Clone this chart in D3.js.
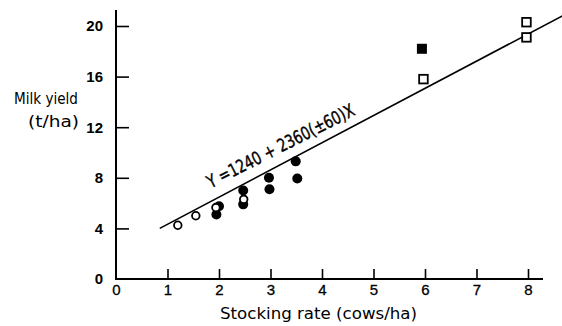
<!DOCTYPE html>
<html>
<head>
<meta charset="utf-8">
<script src="https://cdn.jsdelivr.net/npm/d3@7"></script>
<style>
  body { margin: 0; background: #fff; }
  svg { display: block; font-family: "DejaVu Sans Condensed", "DejaVu Sans", sans-serif; font-stretch: condensed; }
</style>
</head>
<body>
<div id="chart"></div>
<script>
// values
const xTicks = [0, 1, 2, 3, 4, 5, 6, 7, 8];
const yTicks = [0, 4, 8, 12, 16, 20];
const openCircles = [[1.2, 4.25], [1.55, 5.0], [1.94, 5.65], [2.48, 6.3]];
const filledCircles = [[2.0, 5.75], [1.95, 5.1], [2.47, 7.0], [2.47, 5.9], [2.97, 8.0], [2.98, 7.1], [3.49, 9.3], [3.52, 7.95]];
const filledSquares = [[5.94, 18.2]];
const openSquares = [[5.97, 15.8], [7.97, 20.3], [7.97, 19.1]];
const fitLine = [[0.85, 4.0], [8.75, 20.98]];
const equation = "Y =1240 + 2360(\u00b160)X";

const width = 562, height = 326;

const svg = d3.select("#chart")
  .append("svg")
  .attr("width", width)
  .attr("height", height);

let x = d3.scaleLinear().domain([0, 8]).range([116, 528]);
let y = d3.scaleLinear().domain([0, 20]).range([279, 26]);

// axis lines
svg.append("line")
  .attr("x1", x(0)).attr("x2", 543)
  .attr("y1", y(0)).attr("y2", y(0))
  .style("stroke", "#000").style("stroke-width", 2);
svg.append("line")
  .attr("x1", x(0)).attr("x2", x(0))
  .attr("y1", y(0) + 1).attr("y2", 10)
  .style("stroke", "#000").style("stroke-width", 2);

let xAxis = svg.append("g")
  .attr("transform", `translate(0,${y(0)})`)
  .call(d3.axisBottom(x).tickValues(xTicks).tickSize(-10).tickFormat(d3.format("d")));
xAxis.select(".domain").remove();
xAxis.selectAll("line").style("stroke", "#000").style("stroke-width", 1.6)
  .attr("y1", 0).attr("y2", -10);
xAxis.selectAll("line").filter(d => d === 0).remove();
xAxis.selectAll("text")
  .attr("y", 5)
  .style("font-size", "15px")
  .style("font-family", "inherit")
  .style("fill", "#000")
  .style("stroke", "#000")
  .style("stroke-width", 0.3);

let yAxis = svg.append("g")
  .attr("transform", `translate(${x(0)},0)`)
  .call(d3.axisLeft(y).tickValues(yTicks).tickSize(-13).tickFormat(d3.format("d")));
yAxis.select(".domain").remove();
yAxis.selectAll("line").style("stroke", "#000").style("stroke-width", 1.6);
yAxis.selectAll("line").filter(d => d === 0).remove();
yAxis.selectAll("text")
  .attr("x", -13)
  .style("font-size", "15px")
  .style("font-weight", "bold")
  .style("font-family", "inherit")
  .style("fill", "#000");

// regression line
svg.append("path")
  .datum(fitLine)
  .attr("d", d3.line().x(d => x(d[0])).y(d => y(d[1])))
  .style("fill", "none")
  .style("stroke", "#000")
  .style("stroke-width", 1.6);

// equation along the line
const eq0 = [1.84, 7.15];
svg.append("text")
  .attr("transform", `translate(${x(eq0[0])},${y(eq0[1])}) rotate(-27)`)
  .attr("textLength", 163)
  .attr("lengthAdjust", "spacingAndGlyphs")
  .style("font-size", "18px")
  .style("stroke", "#000")
  .style("stroke-width", 0.4)
  .text(equation);

// markers
svg.selectAll(".fc")
  .data(filledCircles)
  .enter().append("circle")
  .attr("cx", d => x(d[0]))
  .attr("cy", d => y(d[1]))
  .attr("r", 5)
  .style("fill", "#000");

svg.selectAll(".oc")
  .data(openCircles)
  .enter().append("circle")
  .attr("cx", d => x(d[0]))
  .attr("cy", d => y(d[1]))
  .attr("r", 3.8)
  .style("fill", "#fff")
  .style("stroke", "#000")
  .style("stroke-width", 1.8);

svg.selectAll(".fs")
  .data(filledSquares)
  .enter().append("rect")
  .attr("x", d => x(d[0]) - 5)
  .attr("y", d => y(d[1]) - 5)
  .attr("width", 10)
  .attr("height", 10)
  .style("fill", "#000");

svg.selectAll(".os")
  .data(openSquares)
  .enter().append("rect")
  .attr("x", d => x(d[0]) - 4.3)
  .attr("y", d => y(d[1]) - 4.3)
  .attr("width", 8.6)
  .attr("height", 8.6)
  .style("fill", "#fff")
  .style("stroke", "#000")
  .style("stroke-width", 1.8);

// axis titles
svg.append("text")
  .attr("x", 14).attr("y", 104)
  .attr("textLength", 64)
  .attr("lengthAdjust", "spacingAndGlyphs")
  .style("font-size", "15px")
  .text("Milk yield");
svg.append("text")
  .attr("x", 28).attr("y", 127)
  .attr("textLength", 51)
  .attr("lengthAdjust", "spacingAndGlyphs")
  .style("font-size", "16px")
  .text("(t/ha)");
svg.append("text")
  .attr("x", 220).attr("y", 319)
  .attr("textLength", 197)
  .attr("lengthAdjust", "spacingAndGlyphs")
  .style("font-size", "16px")
  .text("Stocking rate (cows/ha)");
</script>
</body>
</html>
